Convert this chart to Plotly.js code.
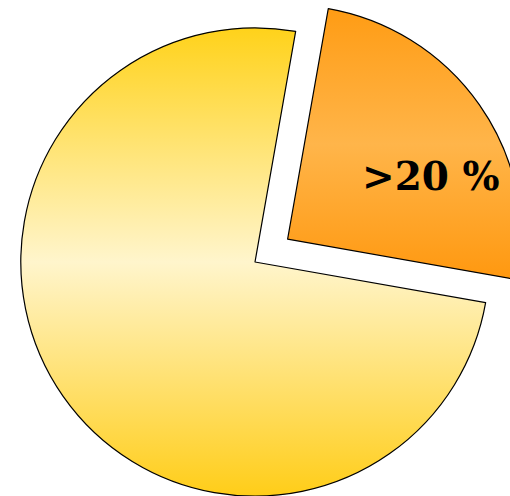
<!DOCTYPE html>
<html>
<head>
<meta charset="utf-8">
<script src="https://cdn.plot.ly/plotly-3.0.1.min.js"></script>
<style>
html, body { margin: 0; padding: 0; width: 510px; height: 496px; overflow: hidden; background: #ffffff; }
#chart { position: absolute; left: -19px; top: -12px; width: 548px; height: 548px; }
</style>
</head>
<body>
<div id="chart"></div>
<script>
// Data
const labels = ['>20 %', '≤20 %'];
const values = [25, 75];
const shownLabel = labels[0];
const pulls = [0.17, 0];
const baseColors = ['#ffa82e', '#ffe27a'];

const trace = {
  type: 'pie',
  labels: labels,
  values: values,
  textinfo: 'none',
  pull: pulls,
  sort: false,
  direction: 'clockwise',
  rotation: 10,
  marker: { colors: baseColors, line: { color: '#000000', width: 1.2 } },
  hoverinfo: 'none',
  domain: { x: [0, 1], y: [0, 1] }
};

const layout = {
  width: 548,
  height: 548,
  margin: { l: 0, r: 0, t: 0, b: 0, pad: 0 },
  showlegend: false,
  paper_bgcolor: 'rgba(0,0,0,0)',
  plot_bgcolor: 'rgba(0,0,0,0)',
  annotations: [{
    text: '<b>' + shownLabel.replace('>', '&gt;') + '</b>',
    xref: 'paper', yref: 'paper',
    x: 0.821, y: 0.657,
    xanchor: 'center', yanchor: 'middle',
    showarrow: false,
    font: { family: 'DejaVu Serif', size: 39, color: '#000000' }
  }]
};

Plotly.newPlot('chart', [trace], layout, { displayModeBar: false, staticPlot: true }).then(function (gd) {
  const svg = gd.querySelector('svg.main-svg');
  const NS = 'http://www.w3.org/2000/svg';
  let defs = svg.querySelector('defs');
  if (!defs) { defs = document.createElementNS(NS, 'defs'); svg.insertBefore(defs, svg.firstChild); }
  function grad(id, stops) {
    const g = document.createElementNS(NS, 'linearGradient');
    g.setAttribute('id', id);
    g.setAttribute('x1', '0'); g.setAttribute('y1', '0');
    g.setAttribute('x2', '0'); g.setAttribute('y2', '1');
    stops.forEach(function (s) {
      const st = document.createElementNS(NS, 'stop');
      st.setAttribute('offset', s[0]);
      st.setAttribute('stop-color', s[1]);
      g.appendChild(st);
    });
    defs.appendChild(g);
  }
  grad('gradOrange', [['0', '#ff9c14'], ['0.5', '#ffb54a'], ['1', '#ff980f']]);
  grad('gradYellow', [['0', '#ffd21a'], ['0.5', '#fff5cc'], ['1', '#ffcd18']]);
  const fills = ['url(#gradOrange)', 'url(#gradYellow)'];
  gd.querySelectorAll('g.slice').forEach(function (s, i) {
    const p = s.querySelector('path.surface');
    if (p) p.style.fill = fills[i];
  });
});
</script>
</body>
</html>
